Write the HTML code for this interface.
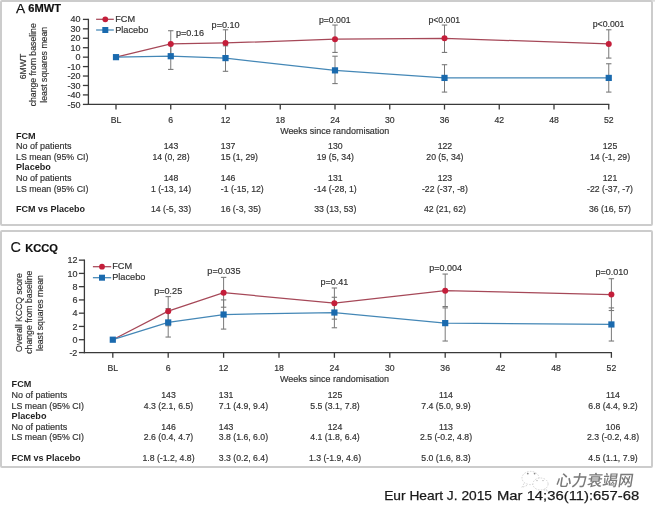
<!DOCTYPE html>
<html><head><meta charset="utf-8"><title>6MWT and KCCQ</title>
<style>
html,body{margin:0;padding:0;background:#fff;}
body{width:655px;height:510px;overflow:hidden;}
svg{display:block;font-family:"Liberation Sans",Arial,"Noto Sans CJK SC",sans-serif;}
text.r{stroke:#333;stroke-width:0.18px;}
</style></head><body>
<svg width="655" height="510" viewBox="0 0 655 510">
<rect width="655" height="510" fill="#fff"/>
<rect x="1" y="1" width="651" height="224" rx="1" fill="none" stroke="#cccccc" stroke-width="2"/>
<rect x="652" y="0" width="3" height="1.7" fill="#dcdcdc"/>
<rect x="1" y="231" width="651" height="236" rx="1" fill="none" stroke="#cccccc" stroke-width="2"/>
<text x="16.00" y="12.70" text-anchor="start" font-size="13.7" fill="#111" stroke="#111" stroke-width="0.25">A</text>
<text x="28.30" y="11.80" text-anchor="start" font-size="11.1" font-weight="bold" fill="#111" stroke="#111" stroke-width="0.2">6MWT</text>
<text x="10.60" y="252.30" text-anchor="start" font-size="14.5" fill="#111" stroke="#111" stroke-width="0.1">C</text>
<text x="25.30" y="251.60" text-anchor="start" font-size="11.1" font-weight="bold" fill="#111" stroke="#111" stroke-width="0.2">KCCQ</text>
<line x1="88.40" y1="18.79" x2="88.40" y2="105.00" stroke="#3a3a3a" stroke-width="1.3"/>
<line x1="87.80" y1="104.40" x2="609.35" y2="104.40" stroke="#3a3a3a" stroke-width="1.3"/>
<line x1="82.90" y1="19.39" x2="88.40" y2="19.39" stroke="#3a3a3a" stroke-width="1.3"/>
<text class="r" x="80.60" y="22.49" text-anchor="end" font-size="9.0" fill="#333">40</text>
<line x1="82.90" y1="28.83" x2="88.40" y2="28.83" stroke="#3a3a3a" stroke-width="1.3"/>
<text class="r" x="80.60" y="31.93" text-anchor="end" font-size="9.0" fill="#333">30</text>
<line x1="82.90" y1="38.27" x2="88.40" y2="38.27" stroke="#3a3a3a" stroke-width="1.3"/>
<text class="r" x="80.60" y="41.37" text-anchor="end" font-size="9.0" fill="#333">20</text>
<line x1="82.90" y1="47.71" x2="88.40" y2="47.71" stroke="#3a3a3a" stroke-width="1.3"/>
<text class="r" x="80.60" y="50.81" text-anchor="end" font-size="9.0" fill="#333">10</text>
<line x1="82.90" y1="57.15" x2="88.40" y2="57.15" stroke="#3a3a3a" stroke-width="1.3"/>
<text class="r" x="80.60" y="60.25" text-anchor="end" font-size="9.0" fill="#333">0</text>
<line x1="82.90" y1="66.59" x2="88.40" y2="66.59" stroke="#3a3a3a" stroke-width="1.3"/>
<text class="r" x="80.60" y="69.69" text-anchor="end" font-size="9.0" fill="#333">-10</text>
<line x1="82.90" y1="76.03" x2="88.40" y2="76.03" stroke="#3a3a3a" stroke-width="1.3"/>
<text class="r" x="80.60" y="79.13" text-anchor="end" font-size="9.0" fill="#333">-20</text>
<line x1="82.90" y1="85.47" x2="88.40" y2="85.47" stroke="#3a3a3a" stroke-width="1.3"/>
<text class="r" x="80.60" y="88.57" text-anchor="end" font-size="9.0" fill="#333">-30</text>
<line x1="82.90" y1="94.91" x2="88.40" y2="94.91" stroke="#3a3a3a" stroke-width="1.3"/>
<text class="r" x="80.60" y="98.01" text-anchor="end" font-size="9.0" fill="#333">-40</text>
<line x1="82.90" y1="104.40" x2="88.40" y2="104.40" stroke="#3a3a3a" stroke-width="1.3"/>
<text class="r" x="80.60" y="107.50" text-anchor="end" font-size="9.0" fill="#333">-50</text>
<line x1="116.00" y1="104.40" x2="116.00" y2="109.60" stroke="#3a3a3a" stroke-width="1.3"/>
<text class="r" x="116.00" y="122.50" text-anchor="middle" font-size="8.7" fill="#333">BL</text>
<line x1="170.75" y1="104.40" x2="170.75" y2="109.60" stroke="#3a3a3a" stroke-width="1.3"/>
<text class="r" x="170.75" y="122.50" text-anchor="middle" font-size="8.7" fill="#333">6</text>
<line x1="225.50" y1="104.40" x2="225.50" y2="109.60" stroke="#3a3a3a" stroke-width="1.3"/>
<text class="r" x="225.50" y="122.50" text-anchor="middle" font-size="8.7" fill="#333">12</text>
<line x1="280.25" y1="104.40" x2="280.25" y2="109.60" stroke="#3a3a3a" stroke-width="1.3"/>
<text class="r" x="280.25" y="122.50" text-anchor="middle" font-size="8.7" fill="#333">18</text>
<line x1="335.00" y1="104.40" x2="335.00" y2="109.60" stroke="#3a3a3a" stroke-width="1.3"/>
<text class="r" x="335.00" y="122.50" text-anchor="middle" font-size="8.7" fill="#333">24</text>
<line x1="389.75" y1="104.40" x2="389.75" y2="109.60" stroke="#3a3a3a" stroke-width="1.3"/>
<text class="r" x="389.75" y="122.50" text-anchor="middle" font-size="8.7" fill="#333">30</text>
<line x1="444.50" y1="104.40" x2="444.50" y2="109.60" stroke="#3a3a3a" stroke-width="1.3"/>
<text class="r" x="444.50" y="122.50" text-anchor="middle" font-size="8.7" fill="#333">36</text>
<line x1="499.25" y1="104.40" x2="499.25" y2="109.60" stroke="#3a3a3a" stroke-width="1.3"/>
<text class="r" x="499.25" y="122.50" text-anchor="middle" font-size="8.7" fill="#333">42</text>
<line x1="554.00" y1="104.40" x2="554.00" y2="109.60" stroke="#3a3a3a" stroke-width="1.3"/>
<text class="r" x="554.00" y="122.50" text-anchor="middle" font-size="8.7" fill="#333">48</text>
<line x1="608.75" y1="104.40" x2="608.75" y2="109.60" stroke="#3a3a3a" stroke-width="1.3"/>
<text class="r" x="608.75" y="122.50" text-anchor="middle" font-size="8.7" fill="#333">52</text>
<text class="r" x="334.70" y="133.90" text-anchor="middle" font-size="8.95" fill="#333">Weeks since randomisation</text>
<line x1="170.75" y1="30.72" x2="170.75" y2="57.15" stroke="#7a7a7a" stroke-width="1.0"/>
<line x1="168.05" y1="30.72" x2="173.45" y2="30.72" stroke="#7a7a7a" stroke-width="1.1"/>
<line x1="168.05" y1="57.15" x2="173.45" y2="57.15" stroke="#7a7a7a" stroke-width="1.1"/>
<line x1="225.50" y1="29.77" x2="225.50" y2="56.21" stroke="#7a7a7a" stroke-width="1.0"/>
<line x1="222.80" y1="29.77" x2="228.20" y2="29.77" stroke="#7a7a7a" stroke-width="1.1"/>
<line x1="222.80" y1="56.21" x2="228.20" y2="56.21" stroke="#7a7a7a" stroke-width="1.1"/>
<line x1="335.00" y1="25.05" x2="335.00" y2="52.43" stroke="#7a7a7a" stroke-width="1.0"/>
<line x1="332.30" y1="25.05" x2="337.70" y2="25.05" stroke="#7a7a7a" stroke-width="1.1"/>
<line x1="332.30" y1="52.43" x2="337.70" y2="52.43" stroke="#7a7a7a" stroke-width="1.1"/>
<line x1="444.50" y1="25.05" x2="444.50" y2="52.43" stroke="#7a7a7a" stroke-width="1.0"/>
<line x1="441.80" y1="25.05" x2="447.20" y2="25.05" stroke="#7a7a7a" stroke-width="1.1"/>
<line x1="441.80" y1="52.43" x2="447.20" y2="52.43" stroke="#7a7a7a" stroke-width="1.1"/>
<line x1="608.75" y1="29.77" x2="608.75" y2="58.09" stroke="#7a7a7a" stroke-width="1.0"/>
<line x1="606.05" y1="29.77" x2="611.45" y2="29.77" stroke="#7a7a7a" stroke-width="1.1"/>
<line x1="606.05" y1="58.09" x2="611.45" y2="58.09" stroke="#7a7a7a" stroke-width="1.1"/>
<line x1="170.75" y1="43.93" x2="170.75" y2="69.42" stroke="#7a7a7a" stroke-width="1.0"/>
<line x1="168.05" y1="43.93" x2="173.45" y2="43.93" stroke="#7a7a7a" stroke-width="1.1"/>
<line x1="168.05" y1="69.42" x2="173.45" y2="69.42" stroke="#7a7a7a" stroke-width="1.1"/>
<line x1="225.50" y1="45.82" x2="225.50" y2="71.31" stroke="#7a7a7a" stroke-width="1.0"/>
<line x1="222.80" y1="45.82" x2="228.20" y2="45.82" stroke="#7a7a7a" stroke-width="1.1"/>
<line x1="222.80" y1="71.31" x2="228.20" y2="71.31" stroke="#7a7a7a" stroke-width="1.1"/>
<line x1="335.00" y1="56.21" x2="335.00" y2="83.58" stroke="#7a7a7a" stroke-width="1.0"/>
<line x1="332.30" y1="56.21" x2="337.70" y2="56.21" stroke="#7a7a7a" stroke-width="1.1"/>
<line x1="332.30" y1="83.58" x2="337.70" y2="83.58" stroke="#7a7a7a" stroke-width="1.1"/>
<line x1="444.50" y1="64.70" x2="444.50" y2="92.08" stroke="#7a7a7a" stroke-width="1.0"/>
<line x1="441.80" y1="64.70" x2="447.20" y2="64.70" stroke="#7a7a7a" stroke-width="1.1"/>
<line x1="441.80" y1="92.08" x2="447.20" y2="92.08" stroke="#7a7a7a" stroke-width="1.1"/>
<line x1="608.75" y1="63.76" x2="608.75" y2="92.08" stroke="#7a7a7a" stroke-width="1.0"/>
<line x1="606.05" y1="63.76" x2="611.45" y2="63.76" stroke="#7a7a7a" stroke-width="1.1"/>
<line x1="606.05" y1="92.08" x2="611.45" y2="92.08" stroke="#7a7a7a" stroke-width="1.1"/>
<polyline points="116.00,57.15 170.75,43.93 225.50,42.99 335.00,39.21 444.50,38.27 608.75,43.93" fill="none" stroke="#a64858" stroke-width="1.25"/>
<polyline points="116.00,57.15 170.75,56.21 225.50,58.09 335.00,70.37 444.50,77.92 608.75,77.92" fill="none" stroke="#4487b6" stroke-width="1.25"/>
<circle cx="170.75" cy="43.93" r="3.0" fill="#c41e3a"/>
<circle cx="225.50" cy="42.99" r="3.0" fill="#c41e3a"/>
<circle cx="335.00" cy="39.21" r="3.0" fill="#c41e3a"/>
<circle cx="444.50" cy="38.27" r="3.0" fill="#c41e3a"/>
<circle cx="608.75" cy="43.93" r="3.0" fill="#c41e3a"/>
<rect x="112.90" y="54.05" width="6.2" height="6.2" fill="#1a6aae"/>
<rect x="167.65" y="53.11" width="6.2" height="6.2" fill="#1a6aae"/>
<rect x="222.40" y="54.99" width="6.2" height="6.2" fill="#1a6aae"/>
<rect x="331.90" y="67.27" width="6.2" height="6.2" fill="#1a6aae"/>
<rect x="441.40" y="74.82" width="6.2" height="6.2" fill="#1a6aae"/>
<rect x="605.65" y="74.82" width="6.2" height="6.2" fill="#1a6aae"/>
<line x1="96.10" y1="19.30" x2="113.80" y2="19.30" stroke="#a64858" stroke-width="1.25"/>
<circle cx="105.3" cy="19.3" r="2.9" fill="#c41e3a"/>
<line x1="96.10" y1="30.00" x2="113.80" y2="30.00" stroke="#4487b6" stroke-width="1.25"/>
<rect x="102.3" y="27.0" width="6" height="6" fill="#1a6aae"/>
<text class="r" x="115.20" y="21.90" text-anchor="start" font-size="9.2" fill="#333">FCM</text>
<text class="r" x="115.20" y="32.60" text-anchor="start" font-size="9.2" fill="#333">Placebo</text>
<text class="r" x="175.90" y="36.00" text-anchor="start" font-size="9.1" fill="#333">p=0.16</text>
<text class="r" x="225.65" y="28.00" text-anchor="middle" font-size="9.1" fill="#333">p=0.10</text>
<text class="r" x="334.80" y="22.50" text-anchor="middle" font-size="8.7" fill="#333">p=0.001</text>
<text class="r" x="444.30" y="22.50" text-anchor="middle" font-size="8.7" fill="#333">p&lt;0.001</text>
<text class="r" x="608.60" y="26.70" text-anchor="middle" font-size="8.7" fill="#333">p&lt;0.001</text>
<text transform="translate(25.90,66.50) rotate(-90)" class="r" text-anchor="middle" font-size="8.7" fill="#333">6MWT</text>
<text transform="translate(36.20,64.80) rotate(-90)" class="r" text-anchor="middle" font-size="8.7" fill="#333">change from baseline</text>
<text transform="translate(46.50,64.80) rotate(-90)" class="r" text-anchor="middle" font-size="8.7" fill="#333">least squares mean</text>
<text x="16.00" y="138.70" text-anchor="start" font-size="9.1" font-weight="bold" fill="#1e1e1e">FCM</text>
<text class="r" x="16.00" y="149.40" text-anchor="start" font-size="9.0" fill="#333">No of patients</text>
<text class="r" x="16.00" y="160.00" text-anchor="start" font-size="8.8" fill="#333">LS mean (95% CI)</text>
<text x="16.00" y="170.40" text-anchor="start" font-size="9.1" font-weight="bold" fill="#1e1e1e">Placebo</text>
<text class="r" x="16.00" y="181.00" text-anchor="start" font-size="9.0" fill="#333">No of patients</text>
<text class="r" x="16.00" y="191.50" text-anchor="start" font-size="8.8" fill="#333">LS mean (95% CI)</text>
<text x="16.00" y="212.00" text-anchor="start" font-size="9.0" font-weight="bold" fill="#1e1e1e">FCM vs Placebo</text>
<text class="r" x="171.00" y="149.40" text-anchor="middle" font-size="8.7" fill="#333">143</text>
<text class="r" x="171.00" y="160.00" text-anchor="middle" font-size="8.7" fill="#333">14 (0, 28)</text>
<text class="r" x="171.00" y="181.00" text-anchor="middle" font-size="8.7" fill="#333">148</text>
<text class="r" x="171.00" y="191.50" text-anchor="middle" font-size="8.7" fill="#333">1 (-13, 14)</text>
<text class="r" x="171.00" y="212.00" text-anchor="middle" font-size="8.7" fill="#333">14 (-5, 33)</text>
<text class="r" x="220.80" y="149.40" text-anchor="start" font-size="8.7" fill="#333">137</text>
<text class="r" x="220.80" y="160.00" text-anchor="start" font-size="8.7" fill="#333">15 (1, 29)</text>
<text class="r" x="220.80" y="181.00" text-anchor="start" font-size="8.7" fill="#333">146</text>
<text class="r" x="220.80" y="191.50" text-anchor="start" font-size="8.7" fill="#333">-1 (-15, 12)</text>
<text class="r" x="220.80" y="212.00" text-anchor="start" font-size="8.7" fill="#333">16 (-3, 35)</text>
<text class="r" x="335.30" y="149.40" text-anchor="middle" font-size="8.7" fill="#333">130</text>
<text class="r" x="335.30" y="160.00" text-anchor="middle" font-size="8.7" fill="#333">19 (5, 34)</text>
<text class="r" x="335.30" y="181.00" text-anchor="middle" font-size="8.7" fill="#333">131</text>
<text class="r" x="335.30" y="191.50" text-anchor="middle" font-size="8.7" fill="#333">-14 (-28, 1)</text>
<text class="r" x="335.30" y="212.00" text-anchor="middle" font-size="8.7" fill="#333">33 (13, 53)</text>
<text class="r" x="444.90" y="149.40" text-anchor="middle" font-size="8.7" fill="#333">122</text>
<text class="r" x="444.90" y="160.00" text-anchor="middle" font-size="8.7" fill="#333">20 (5, 34)</text>
<text class="r" x="444.90" y="181.00" text-anchor="middle" font-size="8.7" fill="#333">123</text>
<text class="r" x="444.90" y="191.50" text-anchor="middle" font-size="8.7" fill="#333">-22 (-37, -8)</text>
<text class="r" x="444.90" y="212.00" text-anchor="middle" font-size="8.7" fill="#333">42 (21, 62)</text>
<text class="r" x="610.00" y="149.40" text-anchor="middle" font-size="8.7" fill="#333">125</text>
<text class="r" x="610.00" y="160.00" text-anchor="middle" font-size="8.7" fill="#333">14 (-1, 29)</text>
<text class="r" x="610.00" y="181.00" text-anchor="middle" font-size="8.7" fill="#333">121</text>
<text class="r" x="610.00" y="191.50" text-anchor="middle" font-size="8.7" fill="#333">-22 (-37, -7)</text>
<text class="r" x="610.00" y="212.00" text-anchor="middle" font-size="8.7" fill="#333">36 (16, 57)</text>
<line x1="84.40" y1="259.54" x2="84.40" y2="353.20" stroke="#3a3a3a" stroke-width="1.3"/>
<line x1="83.80" y1="352.60" x2="612.00" y2="352.60" stroke="#3a3a3a" stroke-width="1.3"/>
<line x1="78.90" y1="260.14" x2="84.40" y2="260.14" stroke="#3a3a3a" stroke-width="1.3"/>
<text class="r" x="77.40" y="263.24" text-anchor="end" font-size="9.0" fill="#333">12</text>
<line x1="78.90" y1="273.40" x2="84.40" y2="273.40" stroke="#3a3a3a" stroke-width="1.3"/>
<text class="r" x="77.40" y="276.50" text-anchor="end" font-size="9.0" fill="#333">10</text>
<line x1="78.90" y1="286.66" x2="84.40" y2="286.66" stroke="#3a3a3a" stroke-width="1.3"/>
<text class="r" x="77.40" y="289.76" text-anchor="end" font-size="9.0" fill="#333">8</text>
<line x1="78.90" y1="299.92" x2="84.40" y2="299.92" stroke="#3a3a3a" stroke-width="1.3"/>
<text class="r" x="77.40" y="303.02" text-anchor="end" font-size="9.0" fill="#333">6</text>
<line x1="78.90" y1="313.18" x2="84.40" y2="313.18" stroke="#3a3a3a" stroke-width="1.3"/>
<text class="r" x="77.40" y="316.28" text-anchor="end" font-size="9.0" fill="#333">4</text>
<line x1="78.90" y1="326.44" x2="84.40" y2="326.44" stroke="#3a3a3a" stroke-width="1.3"/>
<text class="r" x="77.40" y="329.54" text-anchor="end" font-size="9.0" fill="#333">2</text>
<line x1="78.90" y1="339.70" x2="84.40" y2="339.70" stroke="#3a3a3a" stroke-width="1.3"/>
<text class="r" x="77.40" y="342.80" text-anchor="end" font-size="9.0" fill="#333">0</text>
<line x1="78.90" y1="352.60" x2="84.40" y2="352.60" stroke="#3a3a3a" stroke-width="1.3"/>
<text class="r" x="77.40" y="355.70" text-anchor="end" font-size="9.0" fill="#333">-2</text>
<line x1="112.80" y1="352.60" x2="112.80" y2="357.80" stroke="#3a3a3a" stroke-width="1.3"/>
<text class="r" x="112.80" y="370.80" text-anchor="middle" font-size="8.7" fill="#333">BL</text>
<line x1="168.20" y1="352.60" x2="168.20" y2="357.80" stroke="#3a3a3a" stroke-width="1.3"/>
<text class="r" x="168.20" y="370.80" text-anchor="middle" font-size="8.7" fill="#333">6</text>
<line x1="223.60" y1="352.60" x2="223.60" y2="357.80" stroke="#3a3a3a" stroke-width="1.3"/>
<text class="r" x="223.60" y="370.80" text-anchor="middle" font-size="8.7" fill="#333">12</text>
<line x1="279.00" y1="352.60" x2="279.00" y2="357.80" stroke="#3a3a3a" stroke-width="1.3"/>
<text class="r" x="279.00" y="370.80" text-anchor="middle" font-size="8.7" fill="#333">18</text>
<line x1="334.40" y1="352.60" x2="334.40" y2="357.80" stroke="#3a3a3a" stroke-width="1.3"/>
<text class="r" x="334.40" y="370.80" text-anchor="middle" font-size="8.7" fill="#333">24</text>
<line x1="389.80" y1="352.60" x2="389.80" y2="357.80" stroke="#3a3a3a" stroke-width="1.3"/>
<text class="r" x="389.80" y="370.80" text-anchor="middle" font-size="8.7" fill="#333">30</text>
<line x1="445.20" y1="352.60" x2="445.20" y2="357.80" stroke="#3a3a3a" stroke-width="1.3"/>
<text class="r" x="445.20" y="370.80" text-anchor="middle" font-size="8.7" fill="#333">36</text>
<line x1="500.60" y1="352.60" x2="500.60" y2="357.80" stroke="#3a3a3a" stroke-width="1.3"/>
<text class="r" x="500.60" y="370.80" text-anchor="middle" font-size="8.7" fill="#333">42</text>
<line x1="556.00" y1="352.60" x2="556.00" y2="357.80" stroke="#3a3a3a" stroke-width="1.3"/>
<text class="r" x="556.00" y="370.80" text-anchor="middle" font-size="8.7" fill="#333">48</text>
<line x1="611.40" y1="352.60" x2="611.40" y2="357.80" stroke="#3a3a3a" stroke-width="1.3"/>
<text class="r" x="611.40" y="370.80" text-anchor="middle" font-size="8.7" fill="#333">52</text>
<text class="r" x="334.50" y="382.00" text-anchor="middle" font-size="8.95" fill="#333">Weeks since randomisation</text>
<line x1="168.20" y1="296.61" x2="168.20" y2="325.78" stroke="#7a7a7a" stroke-width="1.0"/>
<line x1="165.50" y1="296.61" x2="170.90" y2="296.61" stroke="#7a7a7a" stroke-width="1.1"/>
<line x1="165.50" y1="325.78" x2="170.90" y2="325.78" stroke="#7a7a7a" stroke-width="1.1"/>
<line x1="223.60" y1="277.38" x2="223.60" y2="307.21" stroke="#7a7a7a" stroke-width="1.0"/>
<line x1="220.90" y1="277.38" x2="226.30" y2="277.38" stroke="#7a7a7a" stroke-width="1.1"/>
<line x1="220.90" y1="307.21" x2="226.30" y2="307.21" stroke="#7a7a7a" stroke-width="1.1"/>
<line x1="334.40" y1="287.99" x2="334.40" y2="319.15" stroke="#7a7a7a" stroke-width="1.0"/>
<line x1="331.70" y1="287.99" x2="337.10" y2="287.99" stroke="#7a7a7a" stroke-width="1.1"/>
<line x1="331.70" y1="319.15" x2="337.10" y2="319.15" stroke="#7a7a7a" stroke-width="1.1"/>
<line x1="445.20" y1="274.06" x2="445.20" y2="306.55" stroke="#7a7a7a" stroke-width="1.0"/>
<line x1="442.50" y1="274.06" x2="447.90" y2="274.06" stroke="#7a7a7a" stroke-width="1.1"/>
<line x1="442.50" y1="306.55" x2="447.90" y2="306.55" stroke="#7a7a7a" stroke-width="1.1"/>
<line x1="611.40" y1="278.70" x2="611.40" y2="310.53" stroke="#7a7a7a" stroke-width="1.0"/>
<line x1="608.70" y1="278.70" x2="614.10" y2="278.70" stroke="#7a7a7a" stroke-width="1.1"/>
<line x1="608.70" y1="310.53" x2="614.10" y2="310.53" stroke="#7a7a7a" stroke-width="1.1"/>
<line x1="168.20" y1="308.54" x2="168.20" y2="337.05" stroke="#7a7a7a" stroke-width="1.0"/>
<line x1="165.50" y1="308.54" x2="170.90" y2="308.54" stroke="#7a7a7a" stroke-width="1.1"/>
<line x1="165.50" y1="337.05" x2="170.90" y2="337.05" stroke="#7a7a7a" stroke-width="1.1"/>
<line x1="223.60" y1="299.92" x2="223.60" y2="329.09" stroke="#7a7a7a" stroke-width="1.0"/>
<line x1="220.90" y1="299.92" x2="226.30" y2="299.92" stroke="#7a7a7a" stroke-width="1.1"/>
<line x1="220.90" y1="329.09" x2="226.30" y2="329.09" stroke="#7a7a7a" stroke-width="1.1"/>
<line x1="334.40" y1="297.27" x2="334.40" y2="327.77" stroke="#7a7a7a" stroke-width="1.0"/>
<line x1="331.70" y1="297.27" x2="337.10" y2="297.27" stroke="#7a7a7a" stroke-width="1.1"/>
<line x1="331.70" y1="327.77" x2="337.10" y2="327.77" stroke="#7a7a7a" stroke-width="1.1"/>
<line x1="445.20" y1="307.88" x2="445.20" y2="341.03" stroke="#7a7a7a" stroke-width="1.0"/>
<line x1="442.50" y1="307.88" x2="447.90" y2="307.88" stroke="#7a7a7a" stroke-width="1.1"/>
<line x1="442.50" y1="341.03" x2="447.90" y2="341.03" stroke="#7a7a7a" stroke-width="1.1"/>
<line x1="611.40" y1="307.88" x2="611.40" y2="341.03" stroke="#7a7a7a" stroke-width="1.0"/>
<line x1="608.70" y1="307.88" x2="614.10" y2="307.88" stroke="#7a7a7a" stroke-width="1.1"/>
<line x1="608.70" y1="341.03" x2="614.10" y2="341.03" stroke="#7a7a7a" stroke-width="1.1"/>
<polyline points="112.80,339.70 168.20,311.19 223.60,292.63 334.40,303.24 445.20,290.64 611.40,294.62" fill="none" stroke="#a64858" stroke-width="1.25"/>
<polyline points="112.80,339.70 168.20,322.46 223.60,314.51 334.40,312.52 445.20,323.12 611.40,324.45" fill="none" stroke="#4487b6" stroke-width="1.25"/>
<circle cx="168.20" cy="311.19" r="3.0" fill="#c41e3a"/>
<circle cx="223.60" cy="292.63" r="3.0" fill="#c41e3a"/>
<circle cx="334.40" cy="303.24" r="3.0" fill="#c41e3a"/>
<circle cx="445.20" cy="290.64" r="3.0" fill="#c41e3a"/>
<circle cx="611.40" cy="294.62" r="3.0" fill="#c41e3a"/>
<rect x="109.70" y="336.60" width="6.2" height="6.2" fill="#1a6aae"/>
<rect x="165.10" y="319.36" width="6.2" height="6.2" fill="#1a6aae"/>
<rect x="220.50" y="311.41" width="6.2" height="6.2" fill="#1a6aae"/>
<rect x="331.30" y="309.42" width="6.2" height="6.2" fill="#1a6aae"/>
<rect x="442.10" y="320.02" width="6.2" height="6.2" fill="#1a6aae"/>
<rect x="608.30" y="321.35" width="6.2" height="6.2" fill="#1a6aae"/>
<line x1="92.90" y1="266.70" x2="111.20" y2="266.70" stroke="#a64858" stroke-width="1.25"/>
<circle cx="102.0" cy="266.7" r="2.9" fill="#c41e3a"/>
<line x1="92.90" y1="277.70" x2="111.20" y2="277.70" stroke="#4487b6" stroke-width="1.25"/>
<rect x="99.0" y="274.7" width="6" height="6" fill="#1a6aae"/>
<text class="r" x="112.20" y="269.30" text-anchor="start" font-size="9.2" fill="#333">FCM</text>
<text class="r" x="112.20" y="280.30" text-anchor="start" font-size="9.2" fill="#333">Placebo</text>
<text class="r" x="168.20" y="293.80" text-anchor="middle" font-size="9.1" fill="#333">p=0.25</text>
<text class="r" x="223.90" y="274.10" text-anchor="middle" font-size="9.1" fill="#333">p=0.035</text>
<text class="r" x="334.30" y="284.60" text-anchor="middle" font-size="9.0" fill="#333">p=0.41</text>
<text class="r" x="445.70" y="271.00" text-anchor="middle" font-size="9.0" fill="#333">p=0.004</text>
<text class="r" x="611.80" y="274.60" text-anchor="middle" font-size="9.0" fill="#333">p=0.010</text>
<text transform="translate(21.90,312.60) rotate(-90)" class="r" text-anchor="middle" font-size="8.7" fill="#333">Overall KCCQ score</text>
<text transform="translate(32.20,312.20) rotate(-90)" class="r" text-anchor="middle" font-size="8.7" fill="#333">change from baseline</text>
<text transform="translate(42.50,313.10) rotate(-90)" class="r" text-anchor="middle" font-size="8.7" fill="#333">least squares mean</text>
<text x="11.60" y="387.10" text-anchor="start" font-size="9.1" font-weight="bold" fill="#1e1e1e">FCM</text>
<text class="r" x="11.60" y="398.30" text-anchor="start" font-size="9.0" fill="#333">No of patients</text>
<text class="r" x="11.60" y="408.70" text-anchor="start" font-size="8.8" fill="#333">LS mean (95% CI)</text>
<text x="11.60" y="419.00" text-anchor="start" font-size="9.1" font-weight="bold" fill="#1e1e1e">Placebo</text>
<text class="r" x="11.60" y="429.90" text-anchor="start" font-size="9.0" fill="#333">No of patients</text>
<text class="r" x="11.60" y="440.10" text-anchor="start" font-size="8.8" fill="#333">LS mean (95% CI)</text>
<text x="11.60" y="461.20" text-anchor="start" font-size="9.0" font-weight="bold" fill="#1e1e1e">FCM vs Placebo</text>
<text class="r" x="168.50" y="398.30" text-anchor="middle" font-size="8.7" fill="#333">143</text>
<text class="r" x="168.50" y="408.70" text-anchor="middle" font-size="8.7" fill="#333">4.3 (2.1, 6.5)</text>
<text class="r" x="168.50" y="429.90" text-anchor="middle" font-size="8.7" fill="#333">146</text>
<text class="r" x="168.50" y="440.10" text-anchor="middle" font-size="8.7" fill="#333">2.6 (0.4, 4.7)</text>
<text class="r" x="168.50" y="461.20" text-anchor="middle" font-size="8.7" fill="#333">1.8 (-1.2, 4.8)</text>
<text class="r" x="218.80" y="398.30" text-anchor="start" font-size="8.7" fill="#333">131</text>
<text class="r" x="218.80" y="408.70" text-anchor="start" font-size="8.7" fill="#333">7.1 (4.9, 9.4)</text>
<text class="r" x="218.80" y="429.90" text-anchor="start" font-size="8.7" fill="#333">143</text>
<text class="r" x="218.80" y="440.10" text-anchor="start" font-size="8.7" fill="#333">3.8 (1.6, 6.0)</text>
<text class="r" x="218.80" y="461.20" text-anchor="start" font-size="8.7" fill="#333">3.3 (0.2, 6.4)</text>
<text class="r" x="335.00" y="398.30" text-anchor="middle" font-size="8.7" fill="#333">125</text>
<text class="r" x="335.00" y="408.70" text-anchor="middle" font-size="8.7" fill="#333">5.5 (3.1, 7.8)</text>
<text class="r" x="335.00" y="429.90" text-anchor="middle" font-size="8.7" fill="#333">124</text>
<text class="r" x="335.00" y="440.10" text-anchor="middle" font-size="8.7" fill="#333">4.1 (1.8, 6.4)</text>
<text class="r" x="335.00" y="461.20" text-anchor="middle" font-size="8.7" fill="#333">1.3 (-1.9, 4.6)</text>
<text class="r" x="446.00" y="398.30" text-anchor="middle" font-size="8.7" fill="#333">114</text>
<text class="r" x="446.00" y="408.70" text-anchor="middle" font-size="8.7" fill="#333">7.4 (5.0, 9.9)</text>
<text class="r" x="446.00" y="429.90" text-anchor="middle" font-size="8.7" fill="#333">113</text>
<text class="r" x="446.00" y="440.10" text-anchor="middle" font-size="8.7" fill="#333">2.5 (-0.2, 4.8)</text>
<text class="r" x="446.00" y="461.20" text-anchor="middle" font-size="8.7" fill="#333">5.0 (1.6, 8.3)</text>
<text class="r" x="613.00" y="398.30" text-anchor="middle" font-size="8.7" fill="#333">114</text>
<text class="r" x="613.00" y="408.70" text-anchor="middle" font-size="8.7" fill="#333">6.8 (4.4, 9.2)</text>
<text class="r" x="613.00" y="429.90" text-anchor="middle" font-size="8.7" fill="#333">106</text>
<text class="r" x="613.00" y="440.10" text-anchor="middle" font-size="8.7" fill="#333">2.3 (-0.2, 4.8)</text>
<text class="r" x="613.00" y="461.20" text-anchor="middle" font-size="8.7" fill="#333">4.5 (1.1, 7.9)</text>
<g font-size="13.6" fill="#1a1a1a" stroke="#1a1a1a" stroke-width="0.25" lengthAdjust="spacingAndGlyphs"><text x="384.2" y="500.0" textLength="107.8" lengthAdjust="spacingAndGlyphs">Eur Heart J. 2015</text><text x="497.0" y="500.0" textLength="142.2" lengthAdjust="spacingAndGlyphs">Mar 14;36(11):657-68</text></g>
<text transform="translate(555.6,485.8) skewX(-9)" x="0" y="0" font-size="15.6" font-weight="500" fill="#7a7a7a" font-family="'Noto Sans CJK SC', sans-serif" textLength="77" lengthAdjust="spacingAndGlyphs">心力衰竭网</text>
<g stroke="#c4c4c4" stroke-width="0.7" stroke-dasharray="1.6 1.3"><ellipse cx="530.5" cy="478" rx="8.5" ry="6.6" fill="none"/><path d="M524 483.5 L521.8 487.5 L527 485.4" fill="none"/><ellipse cx="540.5" cy="484" rx="7.6" ry="6" fill="#fff"/><path d="M545.5 488.6 L547.6 491 L543.2 489.6" fill="none"/></g>
<g fill="#8a8a8a"><circle cx="527.8" cy="473.6" r="0.9"/><circle cx="534.6" cy="473.6" r="0.9"/><circle cx="537" cy="480.6" r="0.7" fill="#aaa"/><circle cx="543" cy="480.6" r="0.7" fill="#aaa"/></g>
</svg>
</body></html>
